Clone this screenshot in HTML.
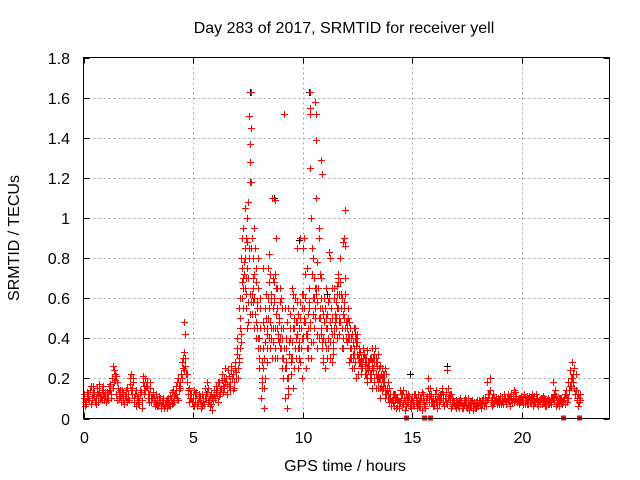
<!DOCTYPE html>
<html><head><meta charset="utf-8"><style>
html,body{margin:0;padding:0;background:#fff}
svg{display:block;font-family:"Liberation Sans",sans-serif}
</style></head><body>
<svg id="chart" width="640" height="480" viewBox="0 0 640 480" xmlns="http://www.w3.org/2000/svg">
<rect width="640" height="480" fill="#fff"/>
<text x="344" y="33" font-size="16" text-anchor="middle">Day 283 of 2017, SRMTID for receiver yell</text>
<g id="grid"></g>
<g id="ticks"></g>
<g id="marks"></g>
<rect x="83.5" y="57.5" width="526" height="361" fill="none" stroke="#000" stroke-width="1"/>
<text x="345" y="471" font-size="16" text-anchor="middle">GPS time / hours</text>
<text transform="translate(19,238) rotate(-90)" font-size="16" text-anchor="middle">SRMTID / TECUs</text>
</svg>
<script>
const xTicks=[0,5,10,15,20];
const yTicks=[0,0.2,0.4,0.6,0.8,1,1.2,1.4,1.6,1.8];
const yTickLabels=["0","0.2","0.4","0.6","0.8","1","1.2","1.4","1.6","1.8"];
const sampleStart=0, sampleStep=0.1;
const seriesA=[.10,.08,.12,.14,.09,.11,.15,.13,.10,.12,.11,.09,.14,.20,.24,.12,.10,.08,.13,.11,.15,.20,.12,.08,.06,.10,.14,.18,.20,.16,.12,.08,.10,.07,.06,.09,.08,.06,.05,.07,.10,.14,.12,.09,.15,.28,.33,.22,.15,.12,.10,.08,.06,.09,.12,.07,.10,.15,.12,.09,.10,.14,.18,.22,.15,.20,.24,.18,.22,.28,.40,.55,.80,.95,.70,.58,1.18,.90,.60,.45,.30,.10,.25,.55,.75,.48,.30,.60,.90,.50,.35,.20,.10,.05,.40,.65,.45,.30,.25,.50,.85,.60,.40,.55,1.00,.70,1.10,.65,.50,.35,.25,.45,.60,.55,.35,.50,.70,.80,.60,.50,.45,.40,.35,.30,.45,.38,.28,.25,.32,.30,.25,.22,.30,.35,.28,.20,.25,.18,.22,.12,.10,.08,.12,.06,.05,.10,.14,.12,.08,.07,.10,.06,.05,.08,.10,.12,.05,.20,.15,.08,.06,.14,.10,.12,.08,.10,.24,.12,.06,.08,.05,.07,.10,.06,.08,.05,.04,.06,.07,.08,.06,.08,.07,.10,.18,.12,.09,.07,.10,.08,.09,.10,.12,.08,.10,.09,.11,.13,.08,.10,.08,.12,.09,.07,.10,.06,.08,.10,.09,.07,.08,.06,.10,.08,.18,.12,.09,.06,.10,.08,.12,.18,.24,.28,.15,.10,.08];
const seriesB=[.06,.13,.09,.07,.16,.10,.08,.11,.14,.09,.13,.16,.10,.15,.22,.18,.14,.12,.07,.10,.10,.22,.18,.12,.09,.07,.05,.12,.16,.10,.18,.13,.06,.09,.11,.05,.07,.08,.10,.06,.07,.08,.18,.14,.22,.30,.26,.12,.10,.08,.14,.12,.10,.05,.08,.15,.18,.06,.04,.12,.16,.08,.12,.16,.25,.12,.16,.26,.15,.20,.25,.35,.60,.85,.45,.80,1.45,.58,.75,.35,.45,.20,.15,.35,.40,.62,.70,.35,.45,.40,.55,.35,.25,.15,.30,.45,.60,.85,.35,.20,.50,.42,.30,1.25,.80,.55,.78,.90,.42,.28,.50,.35,.30,.42,.65,.55,.48,.62,.35,.70,.55,.30,.42,.25,.20,.35,.22,.30,.27,.18,.30,.35,.20,.15,.22,.26,.15,.10,.14,.08,.06,.12,.05,.09,.14,.06,.04,.08,.11,.05,.07,.10,.12,.06,.04,.08,.10,.12,.08,.06,.10,.05,.12,.15,.06,.08,.10,.05,.09,.06,.08,.05,.06,.09,.06,.10,.08,.04,.05,.06,.08,.05,.09,.06,.12,.20,.06,.10,.08,.07,.07,.08,.09,.12,.06,.08,.14,.10,.07,.09,.10,.07,.11,.09,.12,.08,.10,.06,.09,.11,.06,.09,.07,.10,.12,.06,.08,.09,.07,.12,.08,.14,.20,.18,.22,.06,.12];
const seriesD=[.12,.07,.10,.16,.12,.08,.13,.17,.09,.11,.08,.12,.17,.26,.19,.09,.13,.10,.09,.14,.12,.17,.15,.10,.11,.08,.13,.21,.14,.12,.15,.10,.08,.12,.08,.06,.10,.07,.09,.11,.13,.11,.16,.20,.18,.25,.30,.18,.08,.10,.06,.13,.08,.11,.06,.10,.13,.09,.07,.10,.13,.18,.14,.19,.20,.17,.21,.24,.14,.25,.32,.50,.68,.78,.62,.70,.85,.80,.52,.58,.40,.28,.45,.50,.60,.35,.55,.45,.65,.38,.45,.30,.35,.20,.52,.38,.50,.42,.30,.45,.62,.48,.52,.45,.72,.60,.65,.50,.45,.40,.38,.52,.48,.65,.42,.58,.55,.68,.52,.45,.38,.48,.30,.35,.38,.30,.33,.28,.25,.34,.28,.30,.25,.28,.32,.15,.20,.22,.12,.15,.08,.12,.09,.10,.08,.12,.10,.06,.12,.09,.08,.12,.09,.06,.13,.07,.09,.15,.11,.10,.12,.09,.07,.10,.12,.13,.15,.09,.10,.07,.07,.09,.08,.05,.10,.07,.06,.09,.08,.05,.09,.07,.10,.08,.09,.14,.10,.08,.09,.10,.11,.07,.10,.10,.09,.12,.08,.11,.09,.08,.09,.10,.07,.11,.08,.10,.12,.08,.07,.10,.10,.08,.09,.07,.10,.14,.07,.10,.08,.10,.14,.10,.16,.22,.12,.09,.10];
const seriesE=[.08,.11,.14,.10,.13,.07,.12,.10,.16,.13,.10,.14,.12,.18,.21,.15,.11,.14,.11,.08,.09,.14,.20,.14,.07,.12,.09,.16,.18,.08,.10,.12,.09,.06,.10,.08,.05,.09,.07,.09,.08,.12,.10,.16,.20,.24,.22,.14,.12,.06,.12,.07,.12,.07,.10,.12,.08,.11,.10,.14,.12,.11,.15,.13,.18,.24,.14,.20,.18,.23,.30,.42,.55,.65,.88,.52,.62,.72,.48,.65,.35,.48,.38,.42,.55,.45,.68,.52,.40,.58,.40,.25,.48,.32,.28,.55,.40,.35,.58,.40,.55,.42,.65,.38,.60,.50,.42,.72,.55,.48,.45,.40,.55,.38,.48,.66,.50,.45,.58,.40,.42,.35,.38,.40,.32,.35,.26,.30,.28,.24,.22,.28,.32,.20,.25,.22,.18,.15,.10,.12,.09,.06,.10,.08,.12,.07,.09,.10,.06,.10,.12,.08,.07,.10,.09,.06,.11,.08,.12,.07,.08,.11,.09,.13,.10,.07,.11,.12,.08,.09,.06,.08,.05,.07,.09,.06,.08,.07,.06,.09,.07,.09,.06,.09,.10,.08,.12,.09,.07,.09,.08,.10,.07,.09,.11,.10,.09,.08,.10,.11,.07,.09,.10,.08,.09,.11,.07,.09,.10,.08,.09,.07,.08,.10,.09,.11,.10,.08,.09,.07,.10,.16,.20,.25,.14,.12,.09];
const activeStart=7.05;
const seriesC=[.20,.45,.75,1.05,1.00,.85,1.63,.65,.40,.80,.60,.18,.05,.45,.82,.58,.38,.72,.30,.65,.25,1.52,.40,.55,.30,.15,.35,.58,.45,.62,.90,.25,.45,1.63,.38,1.58,.58,.95,.60,.52,.65,.40,.80,.28,.45,.62,.42,.55,.88,1.04,.50,.35,.25,.45,.40,.28,.30,.35,.22,.25,.20,.15,.28,.22,.18,.10,.18,.25,.15,.10];
const seriesF=[.35,.60,.90,.72,.55,.48,.58,.70,.85,.55,.25,.15,.30,.62,.50,.72,.45,.30,.55,.48,.60,.45,.28,.12,.45,.30,.25,.48,.38,.35,.40,.72,.35,.48,.85,.45,.62,.40,.70,.30,.55,.30,.38,.50,.60,.45,.72,.48,.40,.62,.48,.28,.40,.32,.36,.22,.28,.25,.30,.20,.26,.20,.24,.30,.15,.20,.14,.18,.12,.08];
const seriesG=[.28,.38,.65,.80,.75,.62,.52,.45,.68,.40,.55,.35,.20,.28,.68,.40,.58,.65,.42,.35,.30,.55,.20,.38,.22,.62,.48,.52,.28,.55,.48,.35,.58,.30,.52,.65,.35,.55,.38,.60,.35,.58,.45,.32,.52,.40,.62,.35,.55,.48,.40,.45,.32,.28,.42,.32,.25,.35,.22,.28,.22,.25,.18,.26,.20,.16,.22,.12,.18,.10];
const spikeTimes=[7.55,7.58,7.6,7.52,7.65,7.4,7.3,10.35,10.32,10.62,10.6,10.85,10.88,8.6,8.75,4.6,4.62,11.2,11.9,11.92,9.9,8.2,7.8,10.2,11.6];
const spikeValues=[1.51,1.37,1.28,1.08,1.18,0.9,0.7,1.55,1.52,1.52,1.39,1.29,1.22,1.10,1.09,0.48,0.42,0.83,0.90,0.86,0.90,0.75,0.95,0.75,0.68];
const blackTimes=[7.6,10.3,10.6,9.85,8.7,7.6,8.45,11.1,12.4,14.9,16.6];
const blackValues=[1.63,1.63,1.39,0.89,1.10,1.18,0.82,0.62,0.42,0.22,0.26];
const zeroTimes=[14.7,15.55,15.8,21.9,22.6];

const NS="http://www.w3.org/2000/svg";
const X0=83.5,X1=609.5,Y0=418.5,Y1=57.5;
function xs(t){return X0+(t/24)*(X1-X0);}
function ys(v){return Y0-(v/1.8)*(Y0-Y1);}
function mk(tag,attrs,parent){const e=document.createElementNS(NS,tag);for(const k in attrs)e.setAttribute(k,attrs[k]);parent.appendChild(e);return e;}
const grid=document.getElementById('grid'),ticks=document.getElementById('ticks'),marks=document.getElementById('marks');
yTicks.forEach((v,i)=>{
  const y=Math.round(ys(v))+0.5;
  if(i>0&&i<yTicks.length-1){const g=mk('line',{x1:X0,x2:X1,y1:y,y2:y,stroke:'#a0a0a0','stroke-dasharray':'2,3'},grid);
  
  }
  mk('line',{x1:X0,x2:X0+6,y1:y,y2:y,stroke:'#000'},ticks);
  mk('line',{x1:X1-6,x2:X1,y1:y,y2:y,stroke:'#000'},ticks);
  const t=mk('text',{x:70,y:y+5.5,'font-size':16,'text-anchor':'end'},ticks);t.textContent=yTickLabels[i];
  
  
});
xTicks.forEach(v=>{
  const x=Math.round(xs(v))+0.5;
  if(v>0){const g=mk('line',{x1:x,x2:x,y1:Y1,y2:Y0,stroke:'#a0a0a0','stroke-dasharray':'2,3'},grid);
  
  }
  mk('line',{x1:x,x2:x,y1:Y0,y2:Y0-6,stroke:'#000'},ticks);
  mk('line',{x1:x,x2:x,y1:Y1,y2:Y1+6,stroke:'#000'},ticks);
  const t=mk('text',{x:x,y:443,'font-size':16,'text-anchor':'middle'},ticks);t.textContent=String(v);
  
  
});
function plusPath(pts){let d='';pts.forEach(([t,v])=>{const x=Math.round(xs(t))+0.5,y=Math.round(ys(v))+0.5;d+=`M${x-3.5} ${y}h7M${x} ${y-3.5}v7`;});return d;}
const blackPts=blackTimes.map((t,i)=>[t,blackValues[i]]);
const pb=mk('path',{d:plusPath(blackPts),stroke:'#000','stroke-width':1,fill:'none'},marks);


const redPts=[];
seriesA.forEach((v,i)=>redPts.push([sampleStart+i*sampleStep,v]));
seriesB.forEach((v,i)=>redPts.push([sampleStart+i*sampleStep+0.05,v]));
seriesD.forEach((v,i)=>redPts.push([sampleStart+i*sampleStep+0.025,v]));
seriesE.forEach((v,i)=>redPts.push([sampleStart+i*sampleStep+0.075,v]));
seriesC.forEach((v,i)=>redPts.push([activeStart+i*sampleStep,v]));
seriesF.forEach((v,i)=>redPts.push([activeStart-0.025+i*sampleStep,v]));
seriesG.forEach((v,i)=>redPts.push([activeStart+0.025+i*sampleStep,v]));
spikeTimes.forEach((t,i)=>redPts.push([t,spikeValues[i]]));
const pr=mk('path',{d:plusPath(redPts),stroke:'#f00','stroke-width':1,fill:'none'},marks);


zeroTimes.forEach(t=>{const r=mk('rect',{x:Math.round(xs(t))-2,y:Y0-3,width:5,height:5,fill:'#f00'},marks);
  
  });
</script>
</body></html>
